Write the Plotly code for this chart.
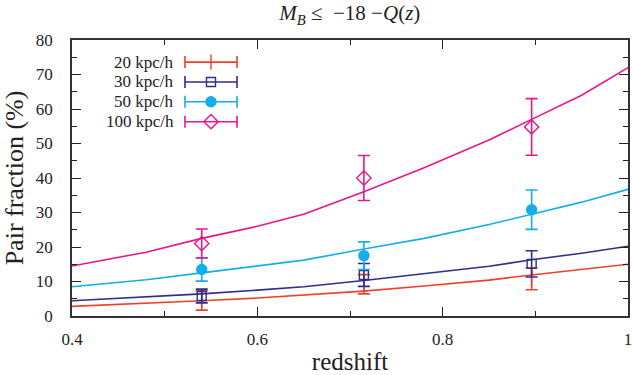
import plotly.graph_objects as go

# 数据
z_pts = [0.54, 0.715, 0.896]
z_curve = [0.4, 0.48, 0.54, 0.6, 0.65, 0.715, 0.78, 0.85, 0.896, 0.95, 1.0]

labels = ['20 kpc/h', '30 kpc/h', '50 kpc/h', '100 kpc/h']
colors = ['#f0402a', '#2e2e8e', '#14aeea', '#e8168e']
symbols = ['line-ns-open', 'square-open', 'circle', 'diamond-open']
sizes = [11, 9, 10, 11]

frac_20 = [4.5, 9.2, 10.8]
err_20 = [2.8, 2.8, 3.2]
frac_30 = [5.8, 11.9, 15.1]
err_30 = [2.0, 3.3, 3.8]
frac_50 = [13.5, 17.5, 30.8]
err_50 = [3.4, 4.0, 5.7]
frac_100 = [21.0, 40.0, 54.8]
err_100 = [4.2, 6.5, 8.2]

curve_20 = [2.8, 3.6, 4.4, 5.2, 6.0, 7.2, 8.7, 10.4, 11.9, 13.4, 15.0]
curve_30 = [4.4, 5.5, 6.4, 7.5, 8.5, 10.3, 12.2, 14.4, 16.3, 18.2, 20.2]
curve_50 = [8.5, 10.5, 12.5, 14.4, 16.2, 19.4, 22.5, 26.5, 29.5, 33.0, 36.7]
curve_100 = [14.5, 18.5, 22.5, 26.0, 29.5, 36.0, 43.0, 51.0, 57.0, 64.0, 72.0]

pts = [frac_20, frac_30, frac_50, frac_100]
errs = [err_20, err_30, err_50, err_100]
curves = [curve_20, curve_30, curve_50, curve_100]

fig = go.Figure()

for i in range(4):
    fig.add_trace(go.Scatter(
        x=z_curve, y=curves[i], mode='lines',
        line=dict(color=colors[i], width=1.6),
        showlegend=False, hoverinfo='skip'
    ))
    fig.add_trace(go.Scatter(
        x=z_pts, y=pts[i], mode='markers',
        marker=dict(symbol=symbols[i], size=sizes[i], color=colors[i],
                    line=dict(color=colors[i], width=1.4)),
        error_y=dict(type='data', array=errs[i], color=colors[i],
                     thickness=1.6, width=6),
        showlegend=False
    ))

# 图例（gnuplot 风格：文字在左，样例在右）
leg_y = [0.920, 0.848, 0.776, 0.704]
for i in range(4):
    fig.add_trace(go.Scatter(
        x=[0.25], y=[leg_y[i]], mode='markers',
        xaxis='x2', yaxis='y2',
        marker=dict(symbol=symbols[i], size=sizes[i], color=colors[i],
                    line=dict(color=colors[i], width=1.4)),
        error_x=dict(type='constant', value=0.0468, color=colors[i],
                     thickness=1.6, width=6),
        showlegend=False, hoverinfo='skip'
    ))
    fig.add_annotation(
        x=0.187, y=leg_y[i], xref='x2', yref='y2', text=labels[i],
        showarrow=False, xanchor='right', yanchor='middle',
        font=dict(family='Liberation Serif', size=17, color='#222222')
    )

axis_font = dict(family='Liberation Serif', size=17, color='#222222')

fig.update_layout(
    width=632, height=375,
    margin=dict(l=72, r=4, t=40, b=59, autoexpand=False),
    paper_bgcolor='white', plot_bgcolor='white',
    font=dict(family='Liberation Serif', color='#222222'),
    title=dict(
        text='<i>M<sub>B</sub></i> ≤  −18 −<i>Q</i>(<i>z</i>)',
        x=0.5535, xanchor='center', y=0.965, yanchor='middle',
        font=dict(family='Liberation Serif', size=21, color='#222222'),
        automargin=False
    ),
    xaxis=dict(
        range=[0.4, 1.0], tickvals=[0.4, 0.6, 0.8, 1.0],
        ticktext=['0.4', '0.6', '0.8', '1'],
        ticks='inside', ticklen=9, tickwidth=1.3, tickcolor='#222222',
        minor=dict(dtick=0.1, ticks='inside', ticklen=5, tickwidth=1.1, tickcolor='#222222'),
        showline=True, linecolor='#333333', linewidth=1.5, mirror='allticks',
        showgrid=False, zeroline=False, tickfont=axis_font,
        ticklabelstandoff=7, automargin=False, ticklabeloverflow='allow',
        title=dict(text='redshift', font=dict(size=25), standoff=8)
    ),
    yaxis=dict(
        range=[0, 80], dtick=10,
        ticks='inside', ticklen=9, tickwidth=1.3, tickcolor='#222222',
        minor=dict(dtick=5, ticks='inside', ticklen=5, tickwidth=1.1, tickcolor='#222222'),
        showline=True, linecolor='#333333', linewidth=1.5, mirror='allticks',
        showgrid=False, zeroline=False, tickfont=axis_font,
        ticklabelstandoff=14, automargin=False,
        title=dict(text='Pair fraction (%)', font=dict(size=26), standoff=6)
    ),
    xaxis2=dict(range=[0, 1], overlaying='x', visible=False, fixedrange=True),
    yaxis2=dict(range=[0, 1], overlaying='y', visible=False, fixedrange=True),
)

# 去掉页面默认边距，使图与窗口对齐
fig.write_html('out.html', config={'displayModeBar': False},
               post_script="document.body.style.margin='0';")
